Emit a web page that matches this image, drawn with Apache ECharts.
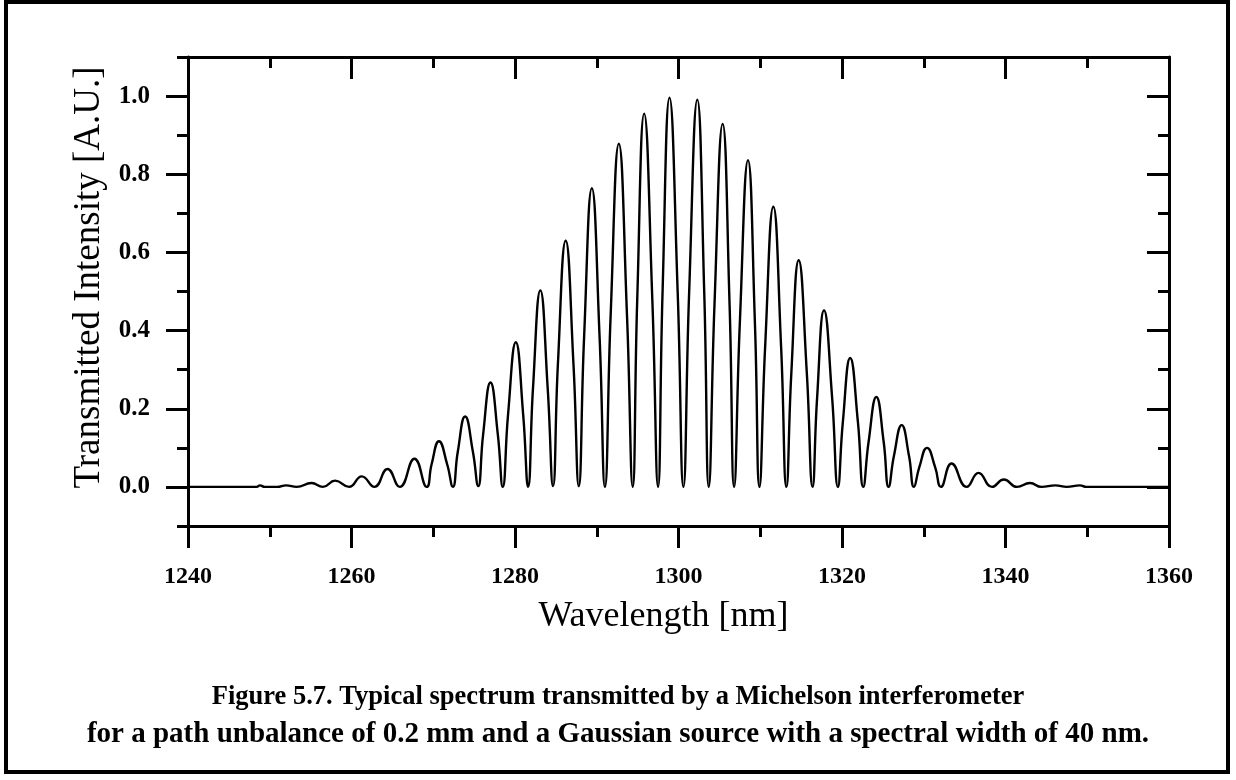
<!DOCTYPE html>
<html>
<head>
<meta charset="utf-8">
<script src="https://cdn.jsdelivr.net/npm/echarts@6/dist/echarts.min.js"></script>
<style>
  html, body { margin: 0; padding: 0; background: #fff; }
  #chart { width: 1236px; height: 780px; }
</style>
</head>
<body>
<div id="chart"></div>
<script>
// wavelength [nm] of the read points (troughs, half-height points, peaks)
const wavelength = [
  1240, 1248.4, 1248.8, 1249.4, 1250.9, 1252.0, 1253.3, 1255.1, 1256.5, 1258.0,
  1259.7, 1261.25, 1262.8, 1264.4, 1265.9, 1267.7, 1269.2,
  1269.8, 1270.7, 1271.7, 1272.4,
  1273.0, 1273.9, 1274.85, 1275.5,
  1276.1, 1277.0, 1277.9, 1278.5,
  1279.15, 1280.1, 1281.0, 1281.6,
  1282.2, 1283.1, 1284.0, 1284.65,
  1285.25, 1286.2, 1287.15, 1287.8,
  1288.45, 1289.4, 1290.35, 1291.0,
  1291.7, 1292.7, 1293.7, 1294.4,
  1294.95, 1295.8, 1296.8, 1297.5,
  1298.05, 1298.9, 1299.9, 1300.6,
  1301.3, 1302.3, 1303.15, 1303.7,
  1304.4, 1305.4, 1306.25, 1306.8,
  1307.5, 1308.5, 1309.35, 1309.9,
  1310.6, 1311.6, 1312.55, 1313.2,
  1313.8, 1314.7, 1315.7, 1316.4,
  1316.95, 1317.8, 1318.8, 1319.5,
  1320.1, 1321.0, 1321.95, 1322.6,
  1323.25, 1324.2, 1325.1, 1325.7,
  1326.35, 1327.3, 1328.2, 1328.8,
  1329.45, 1330.4, 1331.4, 1332.1,
  1333.4, 1335.25, 1336.7, 1338.35, 1339.8, 1341.4, 1343.0, 1344.4,
  1346.1, 1347.5, 1349.1, 1349.9, 1360
];
// transmitted intensity [A.U.]
const intensity = [
  0, 0, 0.004, 0, 0, 0.004, 0, 0.01, 0, 0.016,
  0, 0.027, 0, 0.046, 0, 0.072, 0,
  0.058, 0.117, 0.058, 0,
  0.09, 0.18, 0.09, 0.002,
  0.134, 0.267, 0.134, 0,
  0.185, 0.37, 0.185, 0,
  0.252, 0.503, 0.252, 0.002,
  0.315, 0.63, 0.315, 0.002,
  0.382, 0.764, 0.382, 0,
  0.439, 0.878, 0.439, 0,
  0.478, 0.955, 0.478, 0,
  0.498, 0.996, 0.498, 0,
  0.496, 0.991, 0.496, 0,
  0.465, 0.929, 0.465, 0,
  0.418, 0.836, 0.418, 0,
  0.359, 0.717, 0.359, 0,
  0.29, 0.58, 0.29, 0,
  0.226, 0.452, 0.226, 0,
  0.165, 0.33, 0.165, 0,
  0.115, 0.23, 0.115, 0,
  0.079, 0.158, 0.079, 0,
  0.05, 0.10, 0.05, 0,
  0.06, 0, 0.036, 0, 0.019, 0, 0.01, 0,
  0.004, 0, 0.004, 0, 0
];
// ticks
const majorY = [0, 0.2, 0.4, 0.6, 0.8, 1.0];
const minorY = [-0.1, 0.1, 0.3, 0.5, 0.7, 0.9, 1.1];
const captionLines = [
  'Figure 5.7. Typical spectrum transmitted by a Michelson interferometer',
  'for a path unbalance of 0.2 mm and a Gaussian source with a spectral width of 40 nm.'
];

const serif = '"Liberation Serif", "Times New Roman", serif';
const chart = echarts.init(document.getElementById('chart'));

const lineStyle = { color: '#000', width: 3 };
const tickStyle = { color: '#000', width: 3 };

// y轴：主刻度/次刻度分两条轴画
const yBase = { type: 'value', min: -0.1, max: 1.1, splitLine: { show: false }, minorTick: { show: false } };

chart.setOption({
  animation: false,
  grid: { left: 188, right: 67, top: 57, bottom: 254, outerBoundsMode: 'none' },
  xAxis: [
    {
      type: 'value', position: 'bottom', min: 1240, max: 1360, interval: 20,
      axisLine: { onZero: false, lineStyle },
      axisTick: { length: 22, lineStyle: tickStyle },
      minorTick: { show: true, splitNumber: 2, length: 11, lineStyle: tickStyle },
      splitLine: { show: false },
      axisLabel: {
        margin: 39, fontFamily: serif, fontWeight: 'bold', fontSize: 24, color: '#000',
        formatter: (v) => String(v)
      },
      name: 'Wavelength [nm]', nameLocation: 'middle', nameGap: 73,
      nameTextStyle: { fontFamily: serif, fontSize: 36, color: '#000', padding: [0, 30, 0, 0] }
    },
    {
      type: 'value', position: 'top', min: 1240, max: 1360, interval: 20,
      axisLine: { onZero: false, lineStyle },
      axisTick: { inside: true, length: 22, lineStyle: tickStyle },
      minorTick: { show: true, splitNumber: 2, length: 11, lineStyle: tickStyle },
      splitLine: { show: false },
      axisLabel: { show: false }
    }
  ],
  yAxis: [
    Object.assign({}, yBase, {
      position: 'left',
      axisLine: { show: true, onZero: false, lineStyle },
      axisTick: { length: 22, lineStyle: tickStyle, customValues: majorY },
      axisLabel: {
        customValues: majorY, margin: 38, fontFamily: serif, fontWeight: 'bold',
        fontSize: 25, color: '#000', formatter: (v) => v.toFixed(1)
      },
      name: 'Transmitted Intensity [A.U.]', nameLocation: 'middle', nameGap: 80,
      nameTextStyle: { fontFamily: serif, fontSize: 37, color: '#000', padding: [0, 0, 0, 28] }
    }),
    Object.assign({}, yBase, {
      position: 'left',
      axisLine: { show: false, onZero: false },
      axisTick: { length: 11, lineStyle: tickStyle, customValues: minorY },
      axisLabel: { show: false }
    }),
    Object.assign({}, yBase, {
      position: 'right',
      axisLine: { show: true, onZero: false, lineStyle },
      axisTick: { inside: true, length: 22, lineStyle: tickStyle, customValues: majorY },
      axisLabel: { show: false }
    }),
    Object.assign({}, yBase, {
      position: 'right',
      axisLine: { show: false, onZero: false },
      axisTick: { inside: true, length: 11, lineStyle: tickStyle, customValues: minorY },
      axisLabel: { show: false }
    })
  ],
  series: [
    {
      type: 'line',
      data: wavelength.map((w, i) => [w, intensity[i]]),
      showSymbol: false,
      smooth: 0.5,
      lineStyle: { color: '#000', width: 2.4 },
      z: 1
    }
  ],
  graphic: [
    {
      type: 'rect', shape: { x: 6, y: 2, width: 1222, height: 770 },
      style: { fill: 'none', stroke: '#000', lineWidth: 4 }
    },
    {
      type: 'text', x: 618, y: 697,
      style: { text: captionLines[0], align: 'center', verticalAlign: 'middle', font: 'bold 26.5px ' + serif, fill: '#000' }
    },
    {
      type: 'text', x: 618, y: 735,
      style: { text: captionLines[1], align: 'center', verticalAlign: 'middle', font: 'bold 29px ' + serif, fill: '#000' }
    }
  ]
});
</script>
</body>
</html>
